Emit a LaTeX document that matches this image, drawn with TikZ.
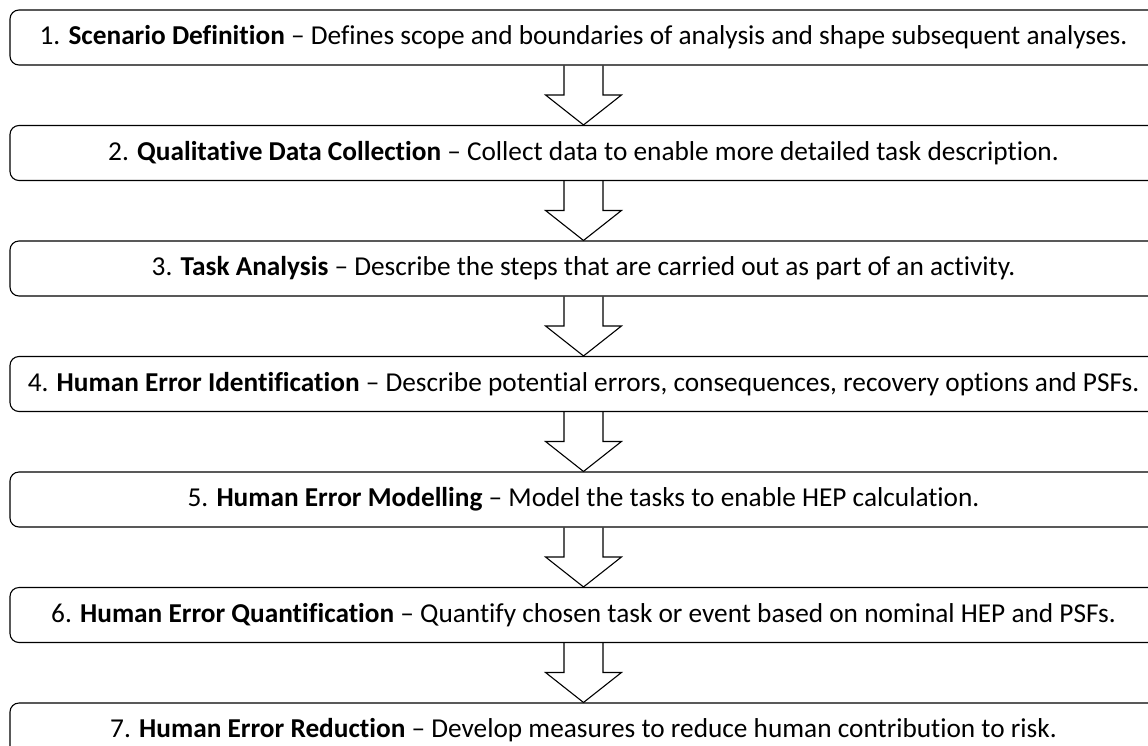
\documentclass[tikz,border=0pt]{standalone}
\usepackage{fontspec}
\setmainfont[Ligatures=NoCommon]{Carlito}
\usetikzlibrary{positioning,calc}

\begin{document}
\begin{tikzpicture}[x=1pt,y=1pt,
    stage/.style={rectangle, draw, rounded corners=9pt, line width=1.1pt, minimum width=1147pt, minimum height=55pt, inner sep=0pt, font=\fontsize{27.3}{31}\selectfont},
    flow/.style={draw, line width=1.1pt, line join=miter}]
  \clip (0,0) rectangle (1148,-745);

  % Stages
  \node[stage] (s1) at (583.5,-37.5) {1. \textbf{Scenario Definition} -- Defines scope and boundaries of analysis and shape subsequent analyses.};
  \node[stage, below=59.4pt of s1] (s2) {2. \textbf{Qualitative Data Collection} -- Collect data to enable more detailed task description.};
  \node[stage, below=59.4pt of s2] (s3) {3. \textbf{Task Analysis} -- Describe the steps that are carried out as part of an activity.};
  \node[stage, below=59.4pt of s3] (s4) {4. \textbf{Human Error Identification} -- Describe potential errors, consequences, recovery options and PSFs.};
  \node[stage, below=59.4pt of s4] (s5) {5. \textbf{Human Error Modelling} -- Model the tasks to enable HEP calculation.};
  \node[stage, below=59.4pt of s5] (s6) {6. \textbf{Human Error Quantification} -- Quantify chosen task or event based on nominal HEP and PSFs.};
  \node[stage, below=59.4pt of s6] (s7) {7. \textbf{Human Error Reduction} -- Develop measures to reduce human contribution to risk.};

  % Hollow arrows between stages
  \foreach \a/\b in {s1/s2,s2/s3,s3/s4,s4/s5,s5/s6,s6/s7}
    \draw[flow] ($(\a.south)+(-19.5,0)$) -- ($(\b.north)+(-19.5,30)$) -- ($(\b.north)+(-38,30)$)
      -- (\b.north) -- ($(\b.north)+(38,30)$) -- ($(\b.north)+(19.5,30)$) -- ($(\a.south)+(19.5,0)$);
\end{tikzpicture}
\end{document}
